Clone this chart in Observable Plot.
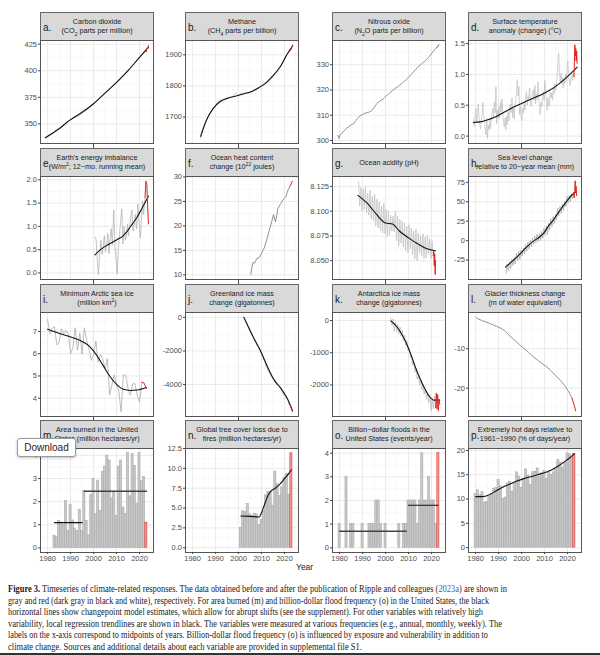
<!DOCTYPE html>
<html><head><meta charset="utf-8">
<script src="https://cdn.jsdelivr.net/npm/d3@7"></script>
<script src="https://cdn.jsdelivr.net/npm/@observablehq/plot@0.6"></script>
<style>
body{margin:0;background:#fff;}
#root{position:relative;width:600px;height:655px;overflow:hidden;font-family:"Liberation Sans",Arial,sans-serif;background:#fff;}
.hdr{position:absolute;box-sizing:border-box;background:#d9d9d9;border:1px solid #666;width:114px;height:29px;}
.hdr .t{position:absolute;left:0;right:0;top:50%;transform:translateY(-50%);text-align:center;font-size:7.2px;line-height:9.6px;color:#1a1a1a;white-space:nowrap;}
.hdr .l{position:absolute;left:2px;top:50%;transform:translateY(-45%);font-size:10px;color:#1a1a1a;}
.hdr sub,.hdr sup{font-size:5px;line-height:0;}
.pl{position:absolute;}
.pl svg{display:block;overflow:visible;}
#year{position:absolute;left:296px;top:562px;font-size:8.5px;color:#1a1a1a;}
#cap{position:absolute;left:8px;top:583px;font-family:"Liberation Serif","Times New Roman",serif;font-size:9.6px;line-height:11.5px;color:#222;}
#cap div{white-space:nowrap;height:11.5px;}
#cap span.ln{display:inline-block;transform-origin:0 50%;}
#cap a{color:#3a63b8;text-decoration:none;}
#dl{position:absolute;left:17px;top:438px;width:59px;height:19px;box-sizing:border-box;border:1px solid #9a9a9a;border-radius:3px;background:#fff;box-shadow:0 1px 3px rgba(0,0,0,0.25);font-size:10px;line-height:17px;text-align:center;color:#222;}
#rule{position:absolute;left:0;top:653px;width:600px;height:2px;background:#333;}
</style>
</head><body><div id="root"></div>
<script>
// ---------- shared axis values ----------
const xDomain = [1976.9, 2026.1];
const xMajorTicks = [1980, 1990, 2000, 2010, 2020];
const xMinorTicks = [1985, 1995, 2005, 2015, 2025];

// ---------- a. CO2 ----------
const co2Gray = [[1979,336.7],[1980,338.8],[1981,340.1],[1982,340.9],[1983,342.6],[1984,344.2],[1985,345.7],[1986,347.0],[1987,348.7],[1988,351.4],[1989,352.9],[1990,354.1],[1991,355.3],[1992,356.0],[1993,356.7],[1994,358.2],[1995,360.2],[1996,361.8],[1997,362.9],[1998,365.6],[1999,367.7],[2000,368.8],[2001,370.4],[2002,372.4],[2003,374.9],[2004,376.8],[2005,378.8],[2006,380.9],[2007,382.7],[2008,384.8],[2009,386.3],[2010,388.6],[2011,390.4],[2012,392.5],[2013,395.2],[2014,397.1],[2015,399.4],[2016,402.9],[2017,405.0],[2018,407.6],[2019,410.1],[2020,412.4],[2021,414.7],[2022,417.1],[2022.6,418.2]];
const co2Red = [[2022.6,418.2],[2022.9,417.6],[2023.1,419.8],[2023.4,421.6],[2023.6,420.4],[2023.9,423.8]];
const co2Trend = [[1979,337],[1985,345.5],[1990,354],[1995,361],[2000,369],[2005,379],[2010,389],[2015,400],[2020,412.5],[2023.9,422]];
const co2Ticks = [350,375,400,425];

// ---------- b. Methane ----------
const ch4Gray = [[1983.5,1632],[1984,1655],[1985,1672],[1986,1690],[1987,1705],[1988,1718],[1989,1728],[1990,1738],[1991,1748],[1992,1755],[1993,1748],[1994,1755],[1995,1760],[1996,1764],[1997,1762],[1998,1771],[1999,1776],[2000,1770],[2001,1777],[2002,1774],[2003,1780],[2004,1776],[2005,1778],[2006,1782],[2007,1788],[2008,1792],[2009,1797],[2010,1803],[2011,1808],[2012,1812],[2013,1820],[2014,1828],[2015,1836],[2016,1843],[2017,1852],[2018,1862],[2019,1873],[2020,1886],[2021,1900],[2022.6,1914]];
const ch4Red = [[2022.6,1914],[2022.9,1917],[2023.2,1925],[2023.6,1932]];
const ch4Trend = [[1983.5,1638],[1986,1690],[1989,1728],[1992,1750],[1995,1760],[1998,1766],[2002,1774],[2006,1783],[2009,1795],[2012,1810],[2015,1832],[2018,1860],[2021,1900],[2023.6,1930]];
const ch4Ticks = [1700,1800,1900];

// ---------- c. Nitrous oxide ----------
const n2oGray = [[1979.2,302],[1979.7,300.8],[1980.3,302.3],[1981,303],[1982,303.8],[1983,304.8],[1984,305.5],[1985,306.2],[1986,306.5],[1987,307.8],[1988,309],[1989,309.8],[1990,310.3],[1991,310.8],[1992,311],[1993,311.3],[1994,311.8],[1995,313],[1996,314.3],[1997,315.3],[1998,315.9],[1999,316.5],[2000,317.4],[2001,318.2],[2002,319.0],[2003,319.8],[2004,320.5],[2005,321.1],[2006,321.8],[2007,322.5],[2008,323.3],[2009,324.1],[2010,325.0],[2011,326.0],[2012,327.0],[2013,328.0],[2014,329.0],[2015,329.8],[2016,330.6],[2017,331.3],[2018,332.2],[2019,333.2],[2020,334.4],[2021,335.6],[2022.3,336.8]];
const n2oRed = [[2022.3,336.8],[2022.8,337.3],[2023.2,337.9]];
const n2oTicks = [300,310,320,330];

// ---------- d. Surface temperature (3 readings per year) ----------
const tempRows = [[1979,0.28,0.15,0.38],[1980,0.45,0.22,0.35],[1981,0.52,0.30,0.18],[1982,0.12,0.25,0.40],[1983,0.55,0.35,0.22],[1984,0.15,0.02,0.28],[1985,-0.04,0.18,0.10],[1986,0.25,0.12,0.30],[1987,0.35,0.45,0.30],[1988,0.55,0.38,0.80],[1989,0.20,0.42,0.28],[1990,0.48,0.30,0.55],[1991,0.40,0.60,0.35],[1992,0.22,0.15,0.30],[1993,0.10,0.32,0.18],[1994,0.40,0.25,0.48],[1995,0.52,0.38,0.62],[1996,0.30,0.45,0.28],[1997,0.50,0.62,0.70],[1998,0.92,0.65,0.80],[1999,0.35,0.48,0.30],[2000,0.25,0.45,0.38],[2001,0.55,0.42,0.68],[2002,0.72,0.50,0.65],[2003,0.60,0.78,0.55],[2004,0.48,0.62,0.70],[2005,0.75,0.58,0.82],[2006,0.52,0.68,0.60],[2007,0.88,0.62,0.45],[2008,0.35,0.55,0.48],[2009,0.60,0.72,0.58],[2010,0.90,0.75,0.55],[2011,0.42,0.62,0.50],[2012,0.48,0.72,0.62],[2013,0.70,0.58,0.80],[2014,0.68,0.85,0.75],[2015,0.82,0.95,1.20],[2016,1.35,1.05,0.88],[2017,1.02,0.85,0.95],[2018,0.78,0.92,0.85],[2019,1.00,0.90,1.10],[2020,1.22,0.95,0.88],[2021,0.82,0.95,1.00],[2022,0.90,1.02,0.96]];
const tempRed = [[2022.85,0.96],[2023.0,1.20],[2023.2,1.48],[2023.4,1.30],[2023.6,1.42],[2023.8,1.22],[2024.0,1.38],[2024.2,1.18]];
const tempTrend = [[1979,0.22],[1982,0.23],[1985,0.26],[1988,0.30],[1991,0.36],[1994,0.42],[1997,0.48],[2000,0.53],[2003,0.58],[2006,0.63],[2009,0.68],[2012,0.74],[2015,0.81],[2018,0.90],[2021,1.00],[2024.2,1.12]];
const tempTicks = [0,0.5,1,1.5];

// ---------- e. Earth's energy imbalance ----------
const eeiGray = [[2000.6,0.77],[2001.1,0.72],[2001.6,0.30],[2002.1,-0.04],[2002.6,0.35],[2003.2,0.70],[2003.7,0.40],[2004.2,0.55],[2004.7,0.80],[2005.2,0.45],[2005.7,0.60],[2006.2,0.85],[2006.7,0.42],[2007.2,0.75],[2007.7,0.95],[2008.2,0.60],[2008.8,1.35],[2009.3,0.55],[2009.8,0.30],[2010.3,-0.02],[2010.8,0.50],[2011.3,0.85],[2011.8,1.10],[2012.3,1.37],[2012.8,0.62],[2013.3,1.00],[2013.8,0.70],[2014.3,0.80],[2014.8,1.05],[2015.2,0.80],[2015.7,1.00],[2016.2,1.20],[2016.7,1.35],[2017.2,0.90],[2017.7,1.05],[2018.2,1.25],[2018.7,0.95],[2019.3,1.48],[2019.8,1.10],[2020.4,0.75],[2020.9,1.20],[2021.3,1.55],[2021.8,1.25],[2022.4,1.62]];
const eeiRed = [[2022.4,1.62],[2022.8,1.97],[2023.2,1.90],[2023.5,1.50],[2023.9,1.05]];
const eeiTrend = [[2000.6,0.39],[2003,0.50],[2006,0.60],[2009,0.68],[2011,0.74],[2013,0.80],[2015,0.92],[2017,1.06],[2019,1.20],[2021,1.38],[2022.5,1.52],[2023.9,1.65]];
const eeiTicks = [0,0.5,1,1.5,2];

// ---------- f. Ocean heat content ----------
const ohcGray = [[2005.3,10.1],[2006.2,12.5],[2007.0,12.4],[2007.9,13.3],[2009.0,13.5],[2010.1,14.5],[2011.2,15.5],[2012.2,17.0],[2013.3,19.0],[2014.3,20.6],[2015.2,22.3],[2016.1,20.8],[2017.1,23.5],[2018.3,24.5],[2019.6,25.5],[2020.6,26.0],[2021.6,27.4],[2022.5,28.2]];
const ohcRed = [[2022.5,28.2],[2023.4,29.1]];
const ohcTicks = [10,15,20,25,30];

// ---------- g. Ocean acidity (high & low reading per year) ----------
const phRows = [[1988,8.130,8.105],[1989,8.124,8.100],[1990,8.122,8.102],[1991,8.125,8.098],[1992,8.118,8.096],[1993,8.121,8.092],[1994,8.115,8.090],[1995,8.117,8.085],[1996,8.112,8.083],[1997,8.110,8.080],[1998,8.105,8.078],[1999,8.108,8.077],[2000,8.102,8.074],[2001,8.100,8.076],[2002,8.096,8.080],[2003,8.095,8.079],[2004,8.100,8.070],[2005,8.095,8.065],[2006,8.092,8.068],[2007,8.090,8.064],[2008,8.088,8.060],[2009,8.085,8.058],[2010,8.086,8.062],[2011,8.083,8.056],[2012,8.080,8.052],[2013,8.082,8.050],[2014,8.078,8.058],[2015,8.075,8.055],[2016,8.077,8.052],[2017,8.074,8.053],[2018,8.076,8.057],[2019,8.072,8.052],[2020,8.070,8.055]];
const phRed = [[2020.75,8.055],[2021.0,8.060],[2021.2,8.045],[2021.4,8.057],[2021.6,8.036],[2021.8,8.050]];
const phTrend = [[1988,8.116],[1992,8.108],[1996,8.097],[2000,8.088],[2003,8.087],[2006,8.080],[2010,8.073],[2014,8.067],[2018,8.062],[2021.8,8.060]];
const phTicks = [8.05,8.075,8.1,8.125];

// ---------- h. Sea level (low & high reading per year) ----------
const seaRows = [[1993,-42,-30],[1994,-38,-27],[1995,-36,-24],[1996,-32,-22],[1997,-30,-16],[1998,-26,-14],[1999,-24,-12],[2000,-20,-9],[2001,-17,-5],[2002,-14,-2],[2003,-11,0],[2004,-8,3],[2005,-5,6],[2006,-3,8],[2007,-1,9],[2008,0,12],[2009,3,16],[2010,7,19],[2011,8,22],[2012,14,28],[2013,18,31],[2014,22,34],[2015,27,42],[2016,32,44],[2017,35,47],[2018,39,51],[2019,44,57],[2020,48,58],[2021,50,60],[2022,54,62]];
const seaRed = [[2022.75,62],[2022.95,55],[2023.15,63],[2023.35,77],[2023.55,62],[2023.75,70],[2023.95,58]];
const seaTrend = [[1993,-34],[1995,-29],[1998,-21],[2000,-15],[2003,-6],[2005,-1],[2008,5],[2010,11],[2012,20],[2014,27],[2016,36],[2018,44],[2020,52],[2022,59],[2023.9,63]];
const seaTicks = [-25,0,25,50,75];

// ---------- i. Minimum Arctic sea ice ----------
const iceGray = [[1980,7.53],[1981,6.90],[1982,7.16],[1983,7.20],[1984,6.40],[1985,6.48],[1986,7.12],[1987,6.89],[1988,7.05],[1989,6.89],[1990,6.01],[1991,6.26],[1992,7.16],[1993,6.16],[1994,6.92],[1995,5.98],[1996,7.16],[1997,6.59],[1998,6.22],[1999,5.70],[2000,5.96],[2001,6.57],[2002,5.62],[2003,5.97],[2004,5.77],[2005,5.32],[2006,5.78],[2007,4.15],[2008,4.59],[2009,5.05],[2010,4.62],[2011,4.34],[2012,3.39],[2013,5.05],[2014,5.03],[2015,4.43],[2016,4.14],[2017,4.64],[2018,4.66],[2019,4.15],[2020,3.82],[2021,4.72]];
const iceRed = [[2021,4.72],[2022,4.68],[2023,4.44]];
const iceTrend = [[1980,7.10],[1984,6.95],[1988,6.82],[1992,6.68],[1995,6.55],[1998,6.35],[2001,5.98],[2004,5.50],[2007,5.00],[2010,4.62],[2013,4.40],[2016,4.35],[2019,4.37],[2023,4.48]];
const iceTicks = [4,5,6,7];

// ---------- j. Greenland ice mass ----------
const grnGray = [[2002.3,20],[2002.7,-60],[2003.1,-220],[2003.5,-260],[2004.0,-480],[2004.5,-540],[2005.0,-780],[2005.5,-830],[2006.0,-1080],[2006.5,-1150],[2007.0,-1420],[2007.5,-1470],[2008.0,-1700],[2008.5,-1750],[2009.0,-1900],[2009.5,-1960],[2010.0,-2250],[2010.5,-2300],[2011.0,-2550],[2011.5,-2600],[2012.0,-2950],[2012.5,-3000],[2013.0,-3250],[2013.5,-3300],[2014.0,-3450],[2014.5,-3500],[2015.0,-3650],[2015.5,-3700],[2016.0,-3900],[2016.5,-3950],[2017.0,-4050],[2017.5,-4070],[2018.0,-4120],[2018.5,-4200],[2019.0,-4450],[2019.5,-4500],[2020.0,-4700],[2020.5,-4750],[2021.0,-4850],[2021.5,-4900],[2022.0,-5150]];
const grnRed = [[2022.0,-5150],[2022.5,-5250],[2023.0,-5450],[2023.5,-5620]];
const grnTrend = [[2002.3,0],[2004,-500],[2006.5,-1200],[2009.4,-1940],[2012.3,-2850],[2015.2,-3660],[2018.1,-4170],[2021,-4770],[2023.5,-5550]];
const grnTicks = [-4000,-2000,0];

// ---------- k. Antarctica ice mass ----------
const antGray = [[2002.3,80],[2002.8,-150],[2003.3,50],[2003.8,-330],[2004.3,-50],[2004.8,-350],[2005.3,-120],[2005.8,-420],[2006.3,-200],[2006.8,-480],[2007.3,-300],[2007.8,-620],[2008.3,-450],[2008.8,-780],[2009.3,-620],[2009.8,-950],[2010.3,-850],[2010.8,-1150],[2011.3,-1050],[2011.8,-1380],[2012.3,-1300],[2012.8,-1600],[2013.3,-1500],[2013.8,-1820],[2014.3,-1700],[2014.8,-2000],[2015.3,-1850],[2015.8,-2150],[2016.3,-2000],[2016.8,-2280],[2017.3,-2150],[2017.8,-2450],[2018.3,-2250],[2018.8,-2550],[2019.3,-2300],[2019.8,-2800],[2020.3,-2400],[2020.8,-2750],[2021.3,-2350],[2021.8,-2700]];
const antRed = [[2021.8,-2700],[2022.1,-2250],[2022.4,-2750],[2022.7,-2300],[2023.0,-2800],[2023.3,-2450],[2023.6,-2600]];
const antTrend = [[2002.3,-10],[2005,-200],[2007,-420],[2009,-700],[2011,-1050],[2013,-1450],[2015,-1800],[2017,-2100],[2019,-2350],[2021,-2470],[2023.6,-2470]];
const antTicks = [-2000,-1000,0];

// ---------- l. Glacier thickness ----------
const glaGray = [[1980,-2.0],[1981,-2.4],[1983,-2.9],[1985,-3.3],[1987,-3.8],[1989,-4.3],[1991,-4.8],[1993,-5.6],[1995,-6.8],[1997,-7.8],[1999,-8.9],[2001,-9.9],[2003,-10.9],[2005,-12.0],[2007,-12.9],[2009,-13.8],[2011,-14.6],[2013,-15.7],[2015,-16.9],[2017,-18.1],[2019,-19.5],[2021,-21.4],[2022,-22.6]];
const glaRed = [[2022,-22.6],[2023,-24.5],[2023.6,-25.8]];
const glaTicks = [-20,-10];

// ---------- m. Area burned (US) ----------
const burned = [[1983,0.53],[1984,0.47],[1985,1.17],[1986,1.10],[1987,0.99],[1988,2.02],[1989,0.74],[1990,1.87],[1991,1.19],[1992,0.84],[1993,0.73],[1994,1.65],[1995,0.74],[1996,2.46],[1997,1.16],[1998,0.54],[1999,2.28],[2000,2.99],[2001,1.45],[2002,2.91],[2003,1.60],[2004,3.28],[2005,3.52],[2006,3.99],[2007,3.78],[2008,2.14],[2009,2.40],[2010,1.38],[2011,3.52],[2012,3.78],[2013,1.75],[2014,1.46],[2015,4.10],[2016,2.23],[2017,4.06],[2018,3.55],[2019,1.89],[2020,4.10],[2021,2.89],[2022,3.07]];
const burnedNew = [[2023,1.09]];
const burnedShift1 = [[1983,1.09],[1995,1.09]];
const burnedShift2 = [[1996,2.45],[2023,2.45]];
const burnedTicks = [0,1,2,3,4];

// ---------- n. Tree cover loss due to fires ----------
const treeLoss = [[2001,2.5],[2002,4.6],[2003,4.5],[2004,5.5],[2005,4.2],[2006,4.0],[2007,4.3],[2008,4.2],[2009,2.9],[2010,3.5],[2011,4.6],[2012,6.6],[2013,7.0],[2014,7.0],[2015,5.3],[2016,9.6],[2017,8.0],[2018,6.5],[2019,7.6],[2020,8.8],[2021,9.3],[2022,6.7]];
const treeLossNew = [[2023,11.9]];
const treeTrend = [[2001,4.0],[2005,3.95],[2009,3.88],[2010,4.4],[2011,5.2],[2012,6.0],[2013,6.7],[2014,7.1],[2016,7.5],[2018,8.0],[2020,8.7],[2022,9.4],[2023,9.8]];
const treeTicks = [0,2.5,5,7.5,10,12.5];

// ---------- o. Billion-dollar floods ----------
const floods = [[1980,1],[1981,0],[1982,0],[1983,3],[1984,0],[1985,1],[1986,1],[1987,0],[1988,0],[1989,0],[1990,1],[1991,0],[1992,0],[1993,1],[1994,1],[1995,1],[1996,2],[1997,2],[1998,1],[1999,0],[2000,1],[2001,0],[2002,0],[2003,0],[2004,0],[2005,0],[2006,1],[2007,0],[2008,1],[2009,1],[2010,2],[2011,2],[2012,2],[2013,2],[2014,1],[2015,2],[2016,4],[2017,2],[2018,2],[2019,3],[2020,2],[2021,2],[2022,1]];
const floodsNew = [[2023,4]];
const floodShift1 = [[1980,0.7],[2009,0.7]];
const floodShift2 = [[2010,1.8],[2023,1.8]];
const floodTicks = [0,1,2,3,4];

// ---------- p. Extremely hot days ----------
const hotDays = [[1980,11.0],[1981,11.8],[1982,10.8],[1983,11.4],[1984,9.2],[1985,9.4],[1986,10.4],[1987,11.0],[1988,12.1],[1989,12.3],[1990,13.9],[1991,12.6],[1992,10.0],[1993,10.3],[1994,13.2],[1995,13.5],[1996,11.5],[1997,13.3],[1998,15.5],[1999,14.6],[2000,12.3],[2001,14.2],[2002,16.1],[2003,14.8],[2004,12.9],[2005,15.5],[2006,15.6],[2007,16.3],[2008,14.5],[2009,15.3],[2010,15.8],[2011,14.2],[2012,15.5],[2013,15.0],[2014,15.5],[2015,16.0],[2016,18.0],[2017,17.5],[2018,16.4],[2019,17.4],[2020,19.4],[2021,19.2],[2022,18.6]];
const hotDaysNew = [[2023,19.3]];
const hotTrend = [[1980,10.5],[1983,10.5],[1986,10.9],[1989,11.7],[1992,12.5],[1995,13.1],[1998,13.7],[2001,14.2],[2004,14.6],[2007,15.0],[2010,15.4],[2013,16.0],[2016,16.8],[2019,17.8],[2021,18.5],[2023,19.3]];
const hotTicks = [0,5,10,15,20];

// ---------- titles ----------
const panelLetters = ["a.","b.","c.","d.","e.","f.","g.","h.","i.","j.","k.","l.","m.","n.","o.","p."];
const panelTitles = [
  "Carbon dioxide<br>(CO<sub>2</sub> parts per million)",
  "Methane<br>(CH<sub>4</sub> parts per billion)",
  "Nitrous oxide<br>(N<sub>2</sub>O parts per billion)",
  "Surface temperature<br>anomaly (change) (°C)",
  "Earth's energy imbalance<br>(W/m<sup>2</sup>; 12−mo. running mean)",
  "Ocean heat content<br>change (10<sup>22</sup> joules)",
  "Ocean acidity (pH)",
  "Sea level change<br>relative to 20−year mean (mm)",
  "Minimum Arctic sea ice<br>(million km<sup>2</sup>)",
  "Greenland ice mass<br>change (gigatonnes)",
  "Antarctica ice mass<br>change (gigatonnes)",
  "Glacier thickness change<br>(m of water equivalent)",
  "Area burned in the United<br>States (million hectares/yr)",
  "Global tree cover loss due to<br>fires (million hectares/yr)",
  "Billion−dollar floods in the<br>United States (events/year)",
  "Extremely hot days relative to<br>1961−1990 (% of days/year)"
];

const captionLines = [
  '<b>Figure 3.</b> Timeseries of climate-related responses. The data obtained before and after the publication of Ripple and colleagues (<a>2023a</a>) are shown in',
  'gray and red (dark gray in black and white), respectively. For area burned (m) and billion-dollar flood frequency (o) in the United States, the black',
  'horizontal lines show changepoint model estimates, which allow for abrupt shifts (see the supplement). For other variables with relatively high',
  'variability, local regression trendlines are shown in black. The variables were measured at various frequencies (e.g., annual, monthly, weekly). The',
  'labels on the x-axis correspond to midpoints of years. Billion-dollar flood frequency (o) is influenced by exposure and vulnerability in addition to',
  'climate change. Sources and additional details about each variable are provided in supplemental file S1.'
];
const captionWidths = [499, 481, 475, 494, 480, 354];

// ---------- helpers ----------
const GRAY = "#c2c2c2", DARK = "#6f6f6f", RED = "#e0261f";
const X = d => d[0], Y = d => d[1];
const grayLine = (data, stroke = GRAY) => Plot.line(data, {x: X, y: Y, stroke, strokeWidth: 0.75});
const redLine = data => Plot.line(data, {x: X, y: Y, stroke: RED, strokeWidth: 1});
const trend = data => Plot.line(data, {x: X, y: Y, stroke: "#111", strokeWidth: 1.1, curve: "monotone-x"});
const seg = (data, stroke, w) => Plot.line(data, {x: X, y: Y, stroke, strokeWidth: w});
const bars = (data, fill, stroke) => Plot.rect(data, {x1: d => d[0] - 0.45, x2: d => d[0] + 0.45, y1: d => 0, y2: Y, fill, stroke, strokeWidth: 0.6});
const triple = rows => rows.flatMap(r => [[r[0] + 0.15, r[1]], [r[0] + 0.5, r[2]], [r[0] + 0.85, r[3]]]);
const pairs = rows => rows.flatMap(r => [[r[0] + 0.25, r[1]], [r[0] + 0.75, r[2]]]);

function minorOf(ticks, dom) {
  const step = ticks.length > 1 ? ticks[1] - ticks[0] : 10;
  const out = [];
  for (let v = ticks[0] - step / 2; v <= dom[1]; v += step) if (v >= dom[0]) out.push(v);
  return out;
}
const fmtInt = d => String(d);
const fmt1 = d => d.toFixed(1);
const fmt3 = d => d.toFixed(3);

function panel(cfg, bottom) {
  const {dom, ticks, fmt, marks} = cfg;
  const ph = cfg.ph;
  return Plot.plot({
    width: 143, height: ph + (bottom ? 14 : 0),
    marginLeft: 30, marginRight: 0, marginTop: 0, marginBottom: bottom ? 14 : 0,
    x: {domain: xDomain},
    y: {domain: dom},
    style: {fontFamily: "Liberation Sans, Arial, sans-serif", fontSize: "7.5px", color: "#4d4d4d", background: "transparent", overflow: "visible"},
    marks: [
      Plot.ruleX(xMinorTicks.filter(v => v < xDomain[1]), {stroke: "#f1f1f1", strokeWidth: 0.5}),
      Plot.ruleY(minorOf(ticks, dom), {stroke: "#f1f1f1", strokeWidth: 0.5}),
      Plot.ruleX(xMajorTicks, {stroke: "#e4e4e4", strokeWidth: 0.8}),
      Plot.ruleY(ticks, {stroke: "#e4e4e4", strokeWidth: 0.8}),
      ...marks,
      Plot.frame({stroke: "#555", strokeWidth: 1}),
      Plot.axisY(ticks, {tickSize: 2, tickPadding: 1.5, tickFormat: fmt, label: null, stroke: "#444", fill: "#4d4d4d"}),
      bottom ? Plot.axisX(xMajorTicks, {tickSize: 2, tickPadding: 1.5, tickFormat: fmtInt, label: null, stroke: "#444", fill: "#4d4d4d"}) : null
    ]
  });
}

const panels = [
  {dom: [331.6, 428.4], ticks: co2Ticks, fmt: fmtInt, marks: [grayLine(co2Gray, "#b8b8b8"), trend(co2Trend), redLine(co2Red)]},
  {dom: [1615, 1946], ticks: ch4Ticks, fmt: fmtInt, marks: [grayLine(ch4Gray, "#b8b8b8"), trend(ch4Trend), redLine(ch4Red)]},
  {dom: [298.8, 339.6], ticks: n2oTicks, fmt: fmtInt, marks: [grayLine(n2oGray, DARK), redLine(n2oRed)]},
  {dom: [-0.12, 1.55], ticks: tempTicks, fmt: fmt1, marks: [grayLine(triple(tempRows)), trend(tempTrend), redLine(tempRed)]},
  {dom: [-0.14, 2.07], ticks: eeiTicks, fmt: fmt1, marks: [grayLine(eeiGray, "#b0b0b0"), trend(eeiTrend), redLine(eeiRed)]},
  {dom: [9.05, 30.1], ticks: ohcTicks, fmt: fmtInt, marks: [grayLine(ohcGray, DARK), redLine(ohcRed)]},
  {dom: [8.031, 8.135], ticks: phTicks, fmt: fmt3, marks: [grayLine(pairs(phRows)), trend(phTrend), redLine(phRed)]},
  {dom: [-50, 82.5], ticks: seaTicks, fmt: fmtInt, marks: [grayLine(pairs(seaRows), "#a8a8a8"), trend(seaTrend), redLine(seaRed)]},
  {dom: [3.18, 7.85], ticks: iceTicks, fmt: fmtInt, marks: [grayLine(iceGray, "#a8a8a8"), trend(iceTrend), redLine(iceRed)]},
  {dom: [-5900, 290], ticks: grnTicks, fmt: fmtInt, marks: [grayLine(grnGray, "#b0b0b0"), trend(grnTrend), redLine(grnRed)]},
  {dom: [-2980, 250], ticks: antTicks, fmt: fmtInt, marks: [grayLine(antGray, "#b8b8b8"), trend(antTrend), redLine(antRed)]},
  {dom: [-27.2, -0.8], ticks: glaTicks, fmt: fmtInt, marks: [grayLine(glaGray, DARK), redLine(glaRed)]},
  {dom: [-0.2, 4.3], ticks: burnedTicks, fmt: fmtInt, marks: [bars(burned, "#c9c9c9", "#a9a9a9"), bars(burnedNew, "#f6a5a0", RED), seg(burnedShift1, "#111", 1.2), seg(burnedShift2, "#444", 1.6)]},
  {dom: [-0.6, 12.5], ticks: treeTicks, fmt: fmt1, marks: [bars(treeLoss, "#c9c9c9", "#a9a9a9"), bars(treeLossNew, "#f6a5a0", RED), trend(treeTrend)]},
  {dom: [-0.2, 4.2], ticks: floodTicks, fmt: fmtInt, marks: [bars(floods, "#c9c9c9", "#a9a9a9"), bars(floodsNew, "#f6a5a0", RED), seg(floodShift1, "#444", 1.4), seg(floodShift2, "#111", 1.2)]},
  {dom: [-1, 20.4], ticks: hotTicks, fmt: fmtInt, marks: [bars(hotDays, "#c9c9c9", "#a9a9a9"), bars(hotDaysNew, "#f6a5a0", RED), trend(hotTrend)]}
];

const colX = [40, 185, 332, 468];
const hdrY = [12, 148, 284, 420];
const plotY = [40, 176, 312, 448];
const plotH = [103, 103, 104, 104];

const root = document.getElementById("root");
panels.forEach((cfg, i) => {
  const r = Math.floor(i / 4), c = i % 4;
  cfg.ph = plotH[r];
  const h = document.createElement("div");
  h.className = "hdr";
  h.style.left = colX[c] + "px";
  h.style.top = hdrY[r] + "px";
  h.innerHTML = `<div class="l">${panelLetters[i]}</div><div class="t">${panelTitles[i]}</div>`;
  root.appendChild(h);
  const p = document.createElement("div");
  p.className = "pl";
  p.style.left = (colX[c] - 30) + "px";
  p.style.top = plotY[r] + "px";
  p.appendChild(panel(cfg, r === 3));
  root.appendChild(p);
});

const yr = document.createElement("div");
yr.id = "year"; yr.textContent = "Year";
root.appendChild(yr);

const dl = document.createElement("div");
dl.id = "dl"; dl.textContent = "Download";
root.appendChild(dl);

const cap = document.createElement("div");
cap.id = "cap";
cap.innerHTML = captionLines.map(l => `<div><span class="ln">${l}</span></div>`).join("");
root.appendChild(cap);
cap.querySelectorAll("span.ln").forEach((el, i) => {
  const w = el.getBoundingClientRect().width;
  el.style.transform = `scaleX(${captionWidths[i] / w})`;
});

const rule = document.createElement("div");
rule.id = "rule";
root.appendChild(rule);
</script>
</body></html>
